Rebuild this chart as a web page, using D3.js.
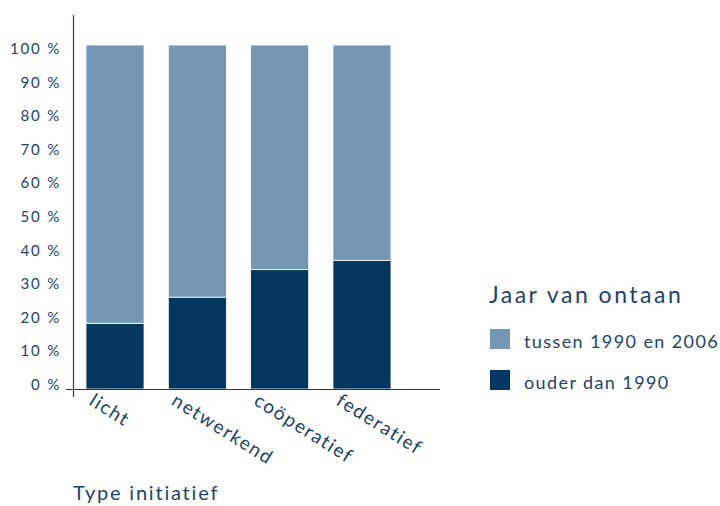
<html lang="nl">
<head>
<meta charset="utf-8">
<script src="https://cdn.jsdelivr.net/npm/d3@7"></script>
<style>
  body { margin: 0; background: #fff; }
  text { font-family: Lato, "Open Sans", sans-serif; fill: #1c4468; }
  .tick-label { font-size: 15px; letter-spacing: 1.8px; }
  .cat { font-size: 19px; letter-spacing: 1.6px; }
</style>
</head>
<body>
<div id="chart"></div>
<script>
var categories = ["licht", "netwerkend", "coöperatief", "federatief"];
var ouder = [19.1, 26.7, 34.7, 37.4];          // ouder dan 1990
var tussen = [80.9, 73.3, 65.3, 62.6];         // tussen 1990 en 2006
var yTicks = [0, 10, 20, 30, 40, 50, 60, 70, 80, 90, 100];
var seriesNames = ["tussen 1990 en 2006", "ouder dan 1990"];
var colors = {"tussen 1990 en 2006": "#7497b4", "ouder dan 1990": "#03375f"};

var width = 720, height = 506;
var svg = d3.select("#chart").append("svg")
    .attr("width", width)
    .attr("height", height);

var x = d3.scaleBand().domain(categories).range([86, 391]).paddingInner(0.295).paddingOuter(0);
var y = d3.scaleLinear().domain([0, 100]).range([389, 45]);
// tick labels sit on their own slightly tighter grid (baselines)
var yLab = d3.scaleLinear().domain([0, 100]).range([390, 54]);

var rows = categories.map(function(c, i){
  return {cat: c, "ouder dan 1990": ouder[i], "tussen 1990 en 2006": tussen[i]};
});
var stack = d3.stack().keys(["ouder dan 1990", "tussen 1990 en 2006"]);
var layers = stack(rows);

svg.append("g").selectAll("g")
  .data(layers)
  .enter().append("g")
  .attr("fill", function(d){ return colors[d.key]; })
  .selectAll("rect")
  .data(function(d){ return d; })
  .enter().append("rect")
  .attr("x", function(d){ return x(d.data.cat); })
  .attr("width", x.bandwidth())
  .attr("y", function(d){ return y(d[1]); })
  .attr("height", function(d){ return y(d[0]) - y(d[1]); })
  .attr("stroke", "#fff")
  .attr("stroke-width", 0.8);

// axes lines
svg.append("line")
  .attr("x1", 73.5).attr("x2", 73.5).attr("y1", 15).attr("y2", 397)
  .attr("stroke", "#1c3f60").attr("stroke-width", 1.2);
svg.append("line")
  .attr("x1", 66).attr("x2", 440).attr("y1", 389.5).attr("y2", 389.5)
  .attr("stroke", "#1c3f60").attr("stroke-width", 1.2);

// y tick labels
svg.append("g").selectAll("text")
  .data(yTicks)
  .enter().append("text")
  .attr("class", "tick-label")
  .attr("x", 61)
  .attr("y", function(d){ return yLab(d); })
  .attr("text-anchor", "end")
  .text(function(d){ return d + " %"; });

// category labels
svg.append("g").selectAll("text")
  .data(categories)
  .enter().append("text")
  .attr("class", "cat")
  .attr("transform", function(d){ return "translate(" + (x(d) + 2) + ",404) rotate(32)"; })
  .text(function(d){ return d; });

svg.append("text")
  .attr("x", 73).attr("y", 500)
  .style("font-size", "20px")
  .style("letter-spacing", "1.8px")
  .text("Type initiatief");

// legend
svg.append("text")
  .attr("x", 489).attr("y", 303)
  .style("font-size", "23px")
  .style("letter-spacing", "2.5px")
  .text("Jaar van ontaan");

var legend = svg.selectAll(".legend")
  .data(seriesNames)
  .enter().append("g")
  .attr("class", "legend")
  .attr("transform", function(d, i){ return "translate(490," + (329 + i * 41) + ")"; });

legend.append("rect")
  .attr("width", 20).attr("height", 20)
  .attr("fill", function(d){ return colors[d]; });

legend.append("text")
  .attr("x", 34).attr("y", 19)
  .style("font-size", "18px")
  .style("letter-spacing", "1.4px")
  .text(function(d){ return d; });
</script>
</body>
</html>
